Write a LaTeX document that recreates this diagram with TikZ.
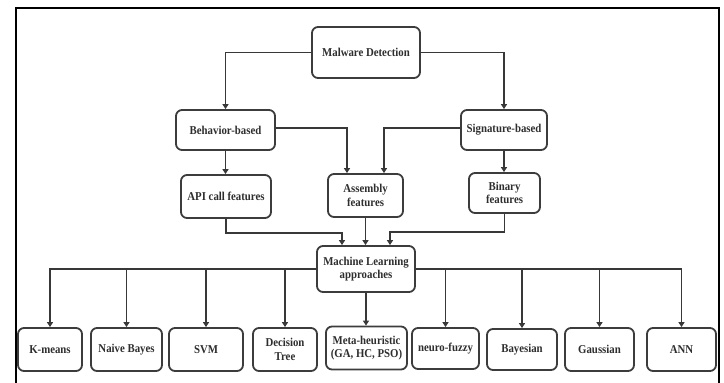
\documentclass[tikz,border=0pt]{standalone}
\usepackage{fontspec}
\setmainfont{Liberation Serif}[FakeStretch=0.9]
\usetikzlibrary{arrows.meta}
\definecolor{boxgray}{HTML}{3C3C3C}
\definecolor{linegray}{HTML}{383838}
\definecolor{txtgray}{HTML}{2E2E2E}
\begin{document}
\begin{tikzpicture}[x=1pt,y=-1pt,
  box/.style={draw=boxgray, line width=1.8pt, rounded corners=6pt, align=center,
    inner sep=0pt, text=txtgray, font=\bfseries\fontsize{12}{13.5}\selectfont},
  link/.style={draw=linegray, line width=1.7pt},
  arr/.style={link, -{Triangle[length=5pt,width=6pt]}}]
\useasboundingbox (0,0) rectangle (724,383);
% outer frame (open at the bottom edge of the page)
\draw[line width=2.6pt, black] (16,390) -- (16,8) -- (719,8) -- (719,390);

% upper part of the tree
\node[box, minimum width=108pt, minimum height=51pt] (md)  at (366,52.5)  {Malware Detection};
\node[box, minimum width=99pt,  minimum height=40pt] (beh) at (225.5,130) {Behavior-based};
\node[box, minimum width=86pt,  minimum height=40pt] (sig) at (504,130)   {Signature-based};
\node[box, minimum width=90pt,  minimum height=43pt] (api) at (226,196.5) {API call features};
\node[box, minimum width=75pt,  minimum height=43pt] (asm) at (365.5,195.5) {Assembly\\features};
\node[box, minimum width=71pt,  minimum height=40pt] (bin) at (504.5,193) {Binary\\features};
\node[box, minimum width=98pt,  minimum height=46pt] (ml)  at (366,269)   {Machine Learning\\approaches};

% bottom row of methods
\node[box, minimum width=64pt, minimum height=43pt] (km)  at (50,349.5)    {K-means};
\node[box, minimum width=71pt, minimum height=43pt] (nb)  at (126.5,349.5) {Naive Bayes};
\node[box, minimum width=74pt, minimum height=43pt] (svm) at (206,349.5)   {SVM};
\node[box, minimum width=64pt, minimum height=43pt] (dt)  at (285,349.5)   {Decision\\Tree};
\node[box, minimum width=81pt, minimum height=43pt] (meta) at (366.5,348)  {Meta-heuristic\\(GA, HC, PSO)};
\node[box, minimum width=67pt, minimum height=41pt] (nf)  at (445.5,348.5) {neuro-fuzzy};
\node[box, minimum width=70pt, minimum height=41pt] (bay) at (522,349.5)   {Bayesian};
\node[box, minimum width=69pt, minimum height=43pt] (gau) at (599.5,349.5) {Gaussian};
\node[box, minimum width=69pt, minimum height=43pt] (ann) at (681.5,349.5) {ANN};

% connectors of the upper part
\draw[arr] (md.west) -| (beh.north);
\draw[arr] (md.east) -| (sig.north);
\draw[arr] ([yshift=2pt]beh.east) -| ([xshift=-18.5pt]asm.north);
\draw[arr] ([yshift=2pt]sig.west) -| ([xshift=18.5pt]asm.north);
\draw[arr] (beh.south) -- (beh.south |- api.north);
\draw[arr] (sig.south) -- (sig.south |- bin.north);
\draw[arr] (api.south) -- ++(0,14) -| ([xshift=-24pt]ml.north);
\draw[arr] (asm.south) -- (asm.south |- ml.north);
\draw[arr] (bin.south) -- ++(0,18) -| ([xshift=24pt]ml.north);

% distribution bus to the methods
\draw[arr] (ml.west) -| (km.north);
\draw[arr] (ml.east) -| (ann.north);
\draw[arr] (ml.south) -- (ml.south |- meta.north);
\foreach \n in {nb,svm,dt,nf,bay,gau}
  \draw[arr] (\n.north |- ml.west) -- (\n.north);
\end{tikzpicture}
\end{document}
